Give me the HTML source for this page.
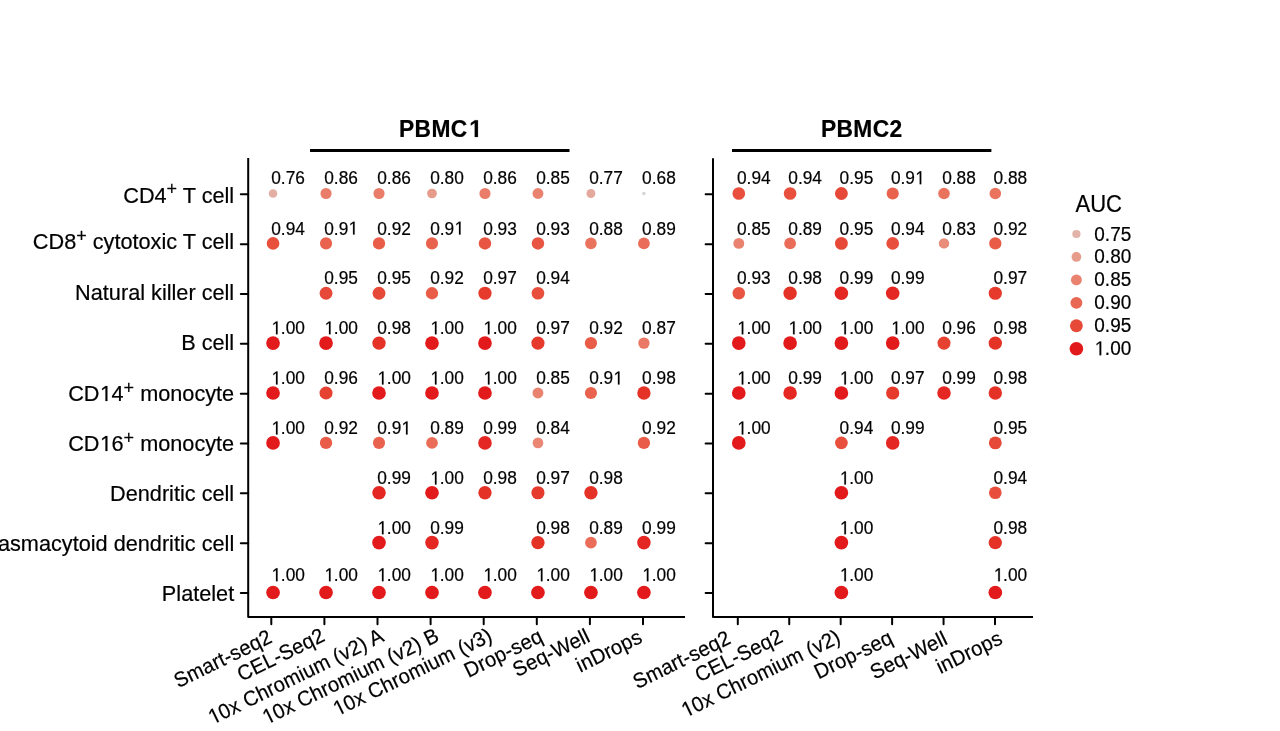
<!DOCTYPE html><html><head><meta charset="utf-8"><style>html,body{margin:0;padding:0;background:#fff;overflow:hidden}svg{display:block;will-change:transform}text{font-family:"Liberation Sans", sans-serif;stroke:#000;stroke-width:0.2px}</style></head><body>
<svg width="1280" height="731" viewBox="0 0 1280 731">
<rect width="1280" height="731" fill="#fff"/>
<text x="234.2" y="202.90" font-size="21.7" text-anchor="end" fill="#000">CD4<tspan font-size="18.0" dy="-7.5">+</tspan><tspan dy="7.5"> T cell</tspan></text>
<text x="234.2" y="249.00" font-size="21.7" text-anchor="end" fill="#000">CD8<tspan font-size="18.0" dy="-7.5">+</tspan><tspan dy="7.5"> cytotoxic T cell</tspan></text>
<text x="234.2" y="300.10" font-size="21.7" text-anchor="end" fill="#000">Natural killer cell</text>
<text x="234.2" y="350.10" font-size="21.7" text-anchor="end" fill="#000">B cell</text>
<text x="234.2" y="401.00" font-size="21.7" text-anchor="end" fill="#000">CD 4<tspan font-size="18.0" dy="-7.5">+</tspan><tspan dy="7.5"> monocyte</tspan></text><g><path d="M105.47 401.00 L105.47 387.88 L102.10 390.29 L102.10 388.49 L105.63 386.06 L107.39 386.06 L107.39 401.00Z" fill="#000" stroke="#000" stroke-width="0.2"/></g>
<text x="234.2" y="451.00" font-size="21.7" text-anchor="end" fill="#000">CD 6<tspan font-size="18.0" dy="-7.5">+</tspan><tspan dy="7.5"> monocyte</tspan></text><g><path d="M105.47 451.00 L105.47 437.88 L102.10 440.29 L102.10 438.49 L105.63 436.06 L107.39 436.06 L107.39 451.00Z" fill="#000" stroke="#000" stroke-width="0.2"/></g>
<text x="234.2" y="501.00" font-size="21.7" text-anchor="end" fill="#000">Dendritic cell</text>
<text x="234.2" y="551.00" font-size="21.7" text-anchor="end" fill="#000">Plasmacytoid dendritic cell</text>
<text x="234.2" y="601.00" font-size="21.7" text-anchor="end" fill="#000">Platelet</text>
<path d="M248.20 158.00 V616.90 H685.00" fill="none" stroke="#000" stroke-width="2.0" stroke-linecap="butt" stroke-linejoin="round"/>
<line x1="240.80" y1="194.30" x2="248.20" y2="194.30" stroke="#000" stroke-width="2.0" stroke-linecap="round"/>
<line x1="240.80" y1="244.14" x2="248.20" y2="244.14" stroke="#000" stroke-width="2.0" stroke-linecap="round"/>
<line x1="240.80" y1="293.98" x2="248.20" y2="293.98" stroke="#000" stroke-width="2.0" stroke-linecap="round"/>
<line x1="240.80" y1="343.82" x2="248.20" y2="343.82" stroke="#000" stroke-width="2.0" stroke-linecap="round"/>
<line x1="240.80" y1="393.66" x2="248.20" y2="393.66" stroke="#000" stroke-width="2.0" stroke-linecap="round"/>
<line x1="240.80" y1="443.50" x2="248.20" y2="443.50" stroke="#000" stroke-width="2.0" stroke-linecap="round"/>
<line x1="240.80" y1="493.34" x2="248.20" y2="493.34" stroke="#000" stroke-width="2.0" stroke-linecap="round"/>
<line x1="240.80" y1="543.18" x2="248.20" y2="543.18" stroke="#000" stroke-width="2.0" stroke-linecap="round"/>
<line x1="240.80" y1="593.02" x2="248.20" y2="593.02" stroke="#000" stroke-width="2.0" stroke-linecap="round"/>
<line x1="271.30" y1="616.90" x2="271.30" y2="624.30" stroke="#000" stroke-width="2.0" stroke-linecap="round"/>
<text font-size="20.2" text-anchor="end" transform="translate(267.10 628.70) rotate(-26) translate(0 14.544) scale(1 1.040)" letter-spacing="0.15" fill="#000">Smart-seq2</text>
<line x1="324.40" y1="616.90" x2="324.40" y2="624.30" stroke="#000" stroke-width="2.0" stroke-linecap="round"/>
<text font-size="20.2" text-anchor="end" transform="translate(319.90 627.30) rotate(-26) translate(0 14.544) scale(1 1.040)" letter-spacing="0.15" fill="#000">CEL-Seq2</text>
<line x1="377.50" y1="616.90" x2="377.50" y2="624.30" stroke="#000" stroke-width="2.0" stroke-linecap="round"/>
<text font-size="20.2" text-anchor="end" transform="translate(378.90 627.55) rotate(-26) translate(0 14.544) scale(1 1.040)" letter-spacing="0.15" fill="#000"> 0x Chromium (v2) A</text><g transform="translate(378.90 627.55) rotate(-26) translate(0 14.544) scale(1 1.040)"><path d="M-186.80 0.00 L-186.80 -12.36 L-189.97 -10.09 L-189.97 -11.79 L-186.65 -14.08 L-184.99 -14.08 L-184.99 0.00Z" fill="#000" stroke="#000" stroke-width="0.2"/></g>
<line x1="430.60" y1="616.90" x2="430.60" y2="624.30" stroke="#000" stroke-width="2.0" stroke-linecap="round"/>
<text font-size="20.2" text-anchor="end" transform="translate(434.10 627.15) rotate(-26) translate(0 14.544) scale(1 1.040)" letter-spacing="0.15" fill="#000"> 0x Chromium (v2) B</text><g transform="translate(434.10 627.15) rotate(-26) translate(0 14.544) scale(1 1.040)"><path d="M-187.90 0.00 L-187.90 -12.36 L-191.08 -10.09 L-191.08 -11.79 L-187.75 -14.08 L-186.09 -14.08 L-186.09 0.00Z" fill="#000" stroke="#000" stroke-width="0.2"/></g>
<line x1="483.70" y1="616.90" x2="483.70" y2="624.30" stroke="#000" stroke-width="2.0" stroke-linecap="round"/>
<text font-size="20.2" text-anchor="end" transform="translate(487.40 627.15) rotate(-26) translate(0 14.544) scale(1 1.040)" letter-spacing="0.15" fill="#000"> 0x Chromium (v3)</text><g transform="translate(487.40 627.15) rotate(-26) translate(0 14.544) scale(1 1.040)"><path d="M-168.54 0.00 L-168.54 -12.36 L-171.72 -10.09 L-171.72 -11.79 L-168.39 -14.08 L-166.73 -14.08 L-166.73 0.00Z" fill="#000" stroke="#000" stroke-width="0.2"/></g>
<line x1="536.80" y1="616.90" x2="536.80" y2="624.30" stroke="#000" stroke-width="2.0" stroke-linecap="round"/>
<text font-size="20.2" text-anchor="end" transform="translate(537.80 627.90) rotate(-26) translate(0 14.544) scale(1 1.040)" letter-spacing="0.15" fill="#000">Drop-seq</text>
<line x1="589.90" y1="616.90" x2="589.90" y2="624.30" stroke="#000" stroke-width="2.0" stroke-linecap="round"/>
<text font-size="20.2" text-anchor="end" transform="translate(585.00 627.90) rotate(-26) translate(0 14.544) scale(1 1.040)" letter-spacing="0.15" fill="#000">Seq-Well</text>
<line x1="643.00" y1="616.90" x2="643.00" y2="624.30" stroke="#000" stroke-width="2.0" stroke-linecap="round"/>
<text font-size="20.2" text-anchor="end" transform="translate(637.40 628.60) rotate(-26) translate(0 14.544) scale(1 1.040)" letter-spacing="0.15" fill="#000">inDrops</text>
<line x1="310.00" y1="150.4" x2="569.50" y2="150.4" stroke="#000" stroke-width="3"/>
<text transform="translate(439.80 137) scale(1 1.040)" font-size="22.8" font-weight="bold" text-anchor="middle" letter-spacing="0.35" fill="#000">PBMC </text><g transform="translate(439.80 137) scale(1 1.040)"><path d="M34.92 0.00 L34.92 -13.39 L31.05 -10.97 L31.05 -13.50 L35.09 -16.12 L38.13 -16.12 L38.13 0.00Z" fill="#000" stroke="#000" stroke-width="0.2"/></g>
<circle cx="273.05" cy="193.50" r="4.27" fill="#e3aea3"/>
<text transform="translate(271.25 184.20) scale(1 1.080)" font-size="17.3" fill="#000">0.76</text>
<circle cx="326.03" cy="193.50" r="5.56" fill="#ea7d69"/>
<text transform="translate(324.23 184.20) scale(1 1.080)" font-size="17.3" fill="#000">0.86</text>
<circle cx="379.01" cy="193.50" r="5.56" fill="#ea7d69"/>
<text transform="translate(377.21 184.20) scale(1 1.080)" font-size="17.3" fill="#000">0.86</text>
<circle cx="431.99" cy="193.50" r="4.85" fill="#e79b8b"/>
<text transform="translate(430.19 184.20) scale(1 1.080)" font-size="17.3" fill="#000">0.80</text>
<circle cx="484.97" cy="193.50" r="5.56" fill="#ea7d69"/>
<text transform="translate(483.17 184.20) scale(1 1.080)" font-size="17.3" fill="#000">0.86</text>
<circle cx="537.95" cy="193.50" r="5.45" fill="#e9826f"/>
<text transform="translate(536.15 184.20) scale(1 1.080)" font-size="17.3" fill="#000">0.85</text>
<circle cx="590.93" cy="193.50" r="4.43" fill="#e4a99d"/>
<text transform="translate(589.13 184.20) scale(1 1.080)" font-size="17.3" fill="#000">0.77</text>
<circle cx="643.91" cy="193.50" r="1.70" fill="#d3d3d3"/>
<text transform="translate(642.11 184.20) scale(1 1.080)" font-size="17.3" fill="#000">0.68</text>
<circle cx="273.05" cy="243.38" r="6.34" fill="#e8503d"/>
<text transform="translate(271.25 234.50) scale(1 1.080)" font-size="17.3" fill="#000">0.94</text>
<circle cx="326.03" cy="243.38" r="6.07" fill="#e9624d"/>
<text transform="translate(324.23 234.50) scale(1 1.080)" font-size="17.3" fill="#000">0.9 </text><g transform="translate(324.23 234.50) scale(1 1.080)"><path d="M28.82 0.00 L28.82 -10.47 L26.13 -8.55 L26.13 -9.99 L28.94 -11.92 L30.35 -11.92 L30.35 0.00Z" fill="#000" stroke="#000" stroke-width="0.2"/></g>
<circle cx="379.01" cy="243.38" r="6.16" fill="#e95c48"/>
<text transform="translate(377.21 234.50) scale(1 1.080)" font-size="17.3" fill="#000">0.92</text>
<circle cx="431.99" cy="243.38" r="6.07" fill="#e9624d"/>
<text transform="translate(430.19 234.50) scale(1 1.080)" font-size="17.3" fill="#000">0.9 </text><g transform="translate(430.19 234.50) scale(1 1.080)"><path d="M28.82 0.00 L28.82 -10.47 L26.13 -8.55 L26.13 -9.99 L28.94 -11.92 L30.35 -11.92 L30.35 0.00Z" fill="#000" stroke="#000" stroke-width="0.2"/></g>
<circle cx="484.97" cy="243.38" r="6.25" fill="#e85643"/>
<text transform="translate(483.17 234.50) scale(1 1.080)" font-size="17.3" fill="#000">0.93</text>
<circle cx="537.95" cy="243.38" r="6.25" fill="#e85643"/>
<text transform="translate(536.15 234.50) scale(1 1.080)" font-size="17.3" fill="#000">0.93</text>
<circle cx="590.93" cy="243.38" r="5.77" fill="#ea735e"/>
<text transform="translate(589.13 234.50) scale(1 1.080)" font-size="17.3" fill="#000">0.88</text>
<circle cx="643.91" cy="243.38" r="5.87" fill="#e96d58"/>
<text transform="translate(642.11 234.50) scale(1 1.080)" font-size="17.3" fill="#000">0.89</text>
<circle cx="326.03" cy="293.25" r="6.43" fill="#e74938"/>
<text transform="translate(324.23 284.20) scale(1 1.080)" font-size="17.3" fill="#000">0.95</text>
<circle cx="379.01" cy="293.25" r="6.43" fill="#e74938"/>
<text transform="translate(377.21 284.20) scale(1 1.080)" font-size="17.3" fill="#000">0.95</text>
<circle cx="431.99" cy="293.25" r="6.16" fill="#e95c48"/>
<text transform="translate(430.19 284.20) scale(1 1.080)" font-size="17.3" fill="#000">0.92</text>
<circle cx="484.97" cy="293.25" r="6.60" fill="#e63a2d"/>
<text transform="translate(483.17 284.20) scale(1 1.080)" font-size="17.3" fill="#000">0.97</text>
<circle cx="537.95" cy="293.25" r="6.34" fill="#e8503d"/>
<text transform="translate(536.15 284.20) scale(1 1.080)" font-size="17.3" fill="#000">0.94</text>
<circle cx="273.05" cy="343.12" r="6.85" fill="#e31a1c"/>
<text transform="translate(271.25 334.30) scale(1 1.080)" font-size="17.3" fill="#000"> .00</text><g transform="translate(271.25 334.30) scale(1 1.080)"><path d="M4.77 0.00 L4.77 -10.45 L2.09 -8.53 L2.09 -9.97 L4.90 -11.90 L6.30 -11.90 L6.30 0.00Z" fill="#000" stroke="#000" stroke-width="0.2"/></g>
<circle cx="326.03" cy="343.12" r="6.85" fill="#e31a1c"/>
<text transform="translate(324.23 334.30) scale(1 1.080)" font-size="17.3" fill="#000"> .00</text><g transform="translate(324.23 334.30) scale(1 1.080)"><path d="M4.77 0.00 L4.77 -10.45 L2.09 -8.53 L2.09 -9.97 L4.90 -11.90 L6.30 -11.90 L6.30 0.00Z" fill="#000" stroke="#000" stroke-width="0.2"/></g>
<circle cx="379.01" cy="343.12" r="6.69" fill="#e53227"/>
<text transform="translate(377.21 334.30) scale(1 1.080)" font-size="17.3" fill="#000">0.98</text>
<circle cx="431.99" cy="343.12" r="6.85" fill="#e31a1c"/>
<text transform="translate(430.19 334.30) scale(1 1.080)" font-size="17.3" fill="#000"> .00</text><g transform="translate(430.19 334.30) scale(1 1.080)"><path d="M4.77 0.00 L4.77 -10.45 L2.09 -8.53 L2.09 -9.97 L4.90 -11.90 L6.30 -11.90 L6.30 0.00Z" fill="#000" stroke="#000" stroke-width="0.2"/></g>
<circle cx="484.97" cy="343.12" r="6.85" fill="#e31a1c"/>
<text transform="translate(483.17 334.30) scale(1 1.080)" font-size="17.3" fill="#000"> .00</text><g transform="translate(483.17 334.30) scale(1 1.080)"><path d="M4.77 0.00 L4.77 -10.45 L2.09 -8.53 L2.09 -9.97 L4.90 -11.90 L6.30 -11.90 L6.30 0.00Z" fill="#000" stroke="#000" stroke-width="0.2"/></g>
<circle cx="537.95" cy="343.12" r="6.60" fill="#e63a2d"/>
<text transform="translate(536.15 334.30) scale(1 1.080)" font-size="17.3" fill="#000">0.97</text>
<circle cx="590.93" cy="343.12" r="6.16" fill="#e95c48"/>
<text transform="translate(589.13 334.30) scale(1 1.080)" font-size="17.3" fill="#000">0.92</text>
<circle cx="643.91" cy="343.12" r="5.67" fill="#ea7864"/>
<text transform="translate(642.11 334.30) scale(1 1.080)" font-size="17.3" fill="#000">0.87</text>
<circle cx="273.05" cy="393.00" r="6.85" fill="#e31a1c"/>
<text transform="translate(271.25 384.40) scale(1 1.080)" font-size="17.3" fill="#000"> .00</text><g transform="translate(271.25 384.40) scale(1 1.080)"><path d="M4.77 0.00 L4.77 -10.45 L2.09 -8.53 L2.09 -9.97 L4.90 -11.90 L6.30 -11.90 L6.30 0.00Z" fill="#000" stroke="#000" stroke-width="0.2"/></g>
<circle cx="326.03" cy="393.00" r="6.52" fill="#e64232"/>
<text transform="translate(324.23 384.40) scale(1 1.080)" font-size="17.3" fill="#000">0.96</text>
<circle cx="379.01" cy="393.00" r="6.85" fill="#e31a1c"/>
<text transform="translate(377.21 384.40) scale(1 1.080)" font-size="17.3" fill="#000"> .00</text><g transform="translate(377.21 384.40) scale(1 1.080)"><path d="M4.77 0.00 L4.77 -10.45 L2.09 -8.53 L2.09 -9.97 L4.90 -11.90 L6.30 -11.90 L6.30 0.00Z" fill="#000" stroke="#000" stroke-width="0.2"/></g>
<circle cx="431.99" cy="393.00" r="6.85" fill="#e31a1c"/>
<text transform="translate(430.19 384.40) scale(1 1.080)" font-size="17.3" fill="#000"> .00</text><g transform="translate(430.19 384.40) scale(1 1.080)"><path d="M4.77 0.00 L4.77 -10.45 L2.09 -8.53 L2.09 -9.97 L4.90 -11.90 L6.30 -11.90 L6.30 0.00Z" fill="#000" stroke="#000" stroke-width="0.2"/></g>
<circle cx="484.97" cy="393.00" r="6.85" fill="#e31a1c"/>
<text transform="translate(483.17 384.40) scale(1 1.080)" font-size="17.3" fill="#000"> .00</text><g transform="translate(483.17 384.40) scale(1 1.080)"><path d="M4.77 0.00 L4.77 -10.45 L2.09 -8.53 L2.09 -9.97 L4.90 -11.90 L6.30 -11.90 L6.30 0.00Z" fill="#000" stroke="#000" stroke-width="0.2"/></g>
<circle cx="537.95" cy="393.00" r="5.45" fill="#e9826f"/>
<text transform="translate(536.15 384.40) scale(1 1.080)" font-size="17.3" fill="#000">0.85</text>
<circle cx="590.93" cy="393.00" r="6.07" fill="#e9624d"/>
<text transform="translate(589.13 384.40) scale(1 1.080)" font-size="17.3" fill="#000">0.9 </text><g transform="translate(589.13 384.40) scale(1 1.080)"><path d="M28.82 0.00 L28.82 -10.47 L26.13 -8.55 L26.13 -9.99 L28.94 -11.92 L30.35 -11.92 L30.35 0.00Z" fill="#000" stroke="#000" stroke-width="0.2"/></g>
<circle cx="643.91" cy="393.00" r="6.69" fill="#e53227"/>
<text transform="translate(642.11 384.40) scale(1 1.080)" font-size="17.3" fill="#000">0.98</text>
<circle cx="273.05" cy="442.88" r="6.85" fill="#e31a1c"/>
<text transform="translate(271.25 434.40) scale(1 1.080)" font-size="17.3" fill="#000"> .00</text><g transform="translate(271.25 434.40) scale(1 1.080)"><path d="M4.77 0.00 L4.77 -10.45 L2.09 -8.53 L2.09 -9.97 L4.90 -11.90 L6.30 -11.90 L6.30 0.00Z" fill="#000" stroke="#000" stroke-width="0.2"/></g>
<circle cx="326.03" cy="442.88" r="6.16" fill="#e95c48"/>
<text transform="translate(324.23 434.40) scale(1 1.080)" font-size="17.3" fill="#000">0.92</text>
<circle cx="379.01" cy="442.88" r="6.07" fill="#e9624d"/>
<text transform="translate(377.21 434.40) scale(1 1.080)" font-size="17.3" fill="#000">0.9 </text><g transform="translate(377.21 434.40) scale(1 1.080)"><path d="M28.82 0.00 L28.82 -10.47 L26.13 -8.55 L26.13 -9.99 L28.94 -11.92 L30.35 -11.92 L30.35 0.00Z" fill="#000" stroke="#000" stroke-width="0.2"/></g>
<circle cx="431.99" cy="442.88" r="5.87" fill="#e96d58"/>
<text transform="translate(430.19 434.40) scale(1 1.080)" font-size="17.3" fill="#000">0.89</text>
<circle cx="484.97" cy="442.88" r="6.77" fill="#e42722"/>
<text transform="translate(483.17 434.40) scale(1 1.080)" font-size="17.3" fill="#000">0.99</text>
<circle cx="537.95" cy="442.88" r="5.34" fill="#e98774"/>
<text transform="translate(536.15 434.40) scale(1 1.080)" font-size="17.3" fill="#000">0.84</text>
<circle cx="643.91" cy="442.88" r="6.16" fill="#e95c48"/>
<text transform="translate(642.11 434.40) scale(1 1.080)" font-size="17.3" fill="#000">0.92</text>
<circle cx="379.01" cy="492.75" r="6.77" fill="#e42722"/>
<text transform="translate(377.21 484.40) scale(1 1.080)" font-size="17.3" fill="#000">0.99</text>
<circle cx="431.99" cy="492.75" r="6.85" fill="#e31a1c"/>
<text transform="translate(430.19 484.40) scale(1 1.080)" font-size="17.3" fill="#000"> .00</text><g transform="translate(430.19 484.40) scale(1 1.080)"><path d="M4.77 0.00 L4.77 -10.45 L2.09 -8.53 L2.09 -9.97 L4.90 -11.90 L6.30 -11.90 L6.30 0.00Z" fill="#000" stroke="#000" stroke-width="0.2"/></g>
<circle cx="484.97" cy="492.75" r="6.69" fill="#e53227"/>
<text transform="translate(483.17 484.40) scale(1 1.080)" font-size="17.3" fill="#000">0.98</text>
<circle cx="537.95" cy="492.75" r="6.60" fill="#e63a2d"/>
<text transform="translate(536.15 484.40) scale(1 1.080)" font-size="17.3" fill="#000">0.97</text>
<circle cx="590.93" cy="492.75" r="6.69" fill="#e53227"/>
<text transform="translate(589.13 484.40) scale(1 1.080)" font-size="17.3" fill="#000">0.98</text>
<circle cx="379.01" cy="542.62" r="6.85" fill="#e31a1c"/>
<text transform="translate(377.21 534.20) scale(1 1.080)" font-size="17.3" fill="#000"> .00</text><g transform="translate(377.21 534.20) scale(1 1.080)"><path d="M4.77 0.00 L4.77 -10.45 L2.09 -8.53 L2.09 -9.97 L4.90 -11.90 L6.30 -11.90 L6.30 0.00Z" fill="#000" stroke="#000" stroke-width="0.2"/></g>
<circle cx="431.99" cy="542.62" r="6.77" fill="#e42722"/>
<text transform="translate(430.19 534.20) scale(1 1.080)" font-size="17.3" fill="#000">0.99</text>
<circle cx="537.95" cy="542.62" r="6.69" fill="#e53227"/>
<text transform="translate(536.15 534.20) scale(1 1.080)" font-size="17.3" fill="#000">0.98</text>
<circle cx="590.93" cy="542.62" r="5.87" fill="#e96d58"/>
<text transform="translate(589.13 534.20) scale(1 1.080)" font-size="17.3" fill="#000">0.89</text>
<circle cx="643.91" cy="542.62" r="6.77" fill="#e42722"/>
<text transform="translate(642.11 534.20) scale(1 1.080)" font-size="17.3" fill="#000">0.99</text>
<circle cx="273.05" cy="592.50" r="6.85" fill="#e31a1c"/>
<text transform="translate(271.25 581.20) scale(1 1.080)" font-size="17.3" fill="#000"> .00</text><g transform="translate(271.25 581.20) scale(1 1.080)"><path d="M4.77 0.00 L4.77 -10.45 L2.09 -8.53 L2.09 -9.97 L4.90 -11.90 L6.30 -11.90 L6.30 0.00Z" fill="#000" stroke="#000" stroke-width="0.2"/></g>
<circle cx="326.03" cy="592.50" r="6.85" fill="#e31a1c"/>
<text transform="translate(324.23 581.20) scale(1 1.080)" font-size="17.3" fill="#000"> .00</text><g transform="translate(324.23 581.20) scale(1 1.080)"><path d="M4.77 0.00 L4.77 -10.45 L2.09 -8.53 L2.09 -9.97 L4.90 -11.90 L6.30 -11.90 L6.30 0.00Z" fill="#000" stroke="#000" stroke-width="0.2"/></g>
<circle cx="379.01" cy="592.50" r="6.85" fill="#e31a1c"/>
<text transform="translate(377.21 581.20) scale(1 1.080)" font-size="17.3" fill="#000"> .00</text><g transform="translate(377.21 581.20) scale(1 1.080)"><path d="M4.77 0.00 L4.77 -10.45 L2.09 -8.53 L2.09 -9.97 L4.90 -11.90 L6.30 -11.90 L6.30 0.00Z" fill="#000" stroke="#000" stroke-width="0.2"/></g>
<circle cx="431.99" cy="592.50" r="6.85" fill="#e31a1c"/>
<text transform="translate(430.19 581.20) scale(1 1.080)" font-size="17.3" fill="#000"> .00</text><g transform="translate(430.19 581.20) scale(1 1.080)"><path d="M4.77 0.00 L4.77 -10.45 L2.09 -8.53 L2.09 -9.97 L4.90 -11.90 L6.30 -11.90 L6.30 0.00Z" fill="#000" stroke="#000" stroke-width="0.2"/></g>
<circle cx="484.97" cy="592.50" r="6.85" fill="#e31a1c"/>
<text transform="translate(483.17 581.20) scale(1 1.080)" font-size="17.3" fill="#000"> .00</text><g transform="translate(483.17 581.20) scale(1 1.080)"><path d="M4.77 0.00 L4.77 -10.45 L2.09 -8.53 L2.09 -9.97 L4.90 -11.90 L6.30 -11.90 L6.30 0.00Z" fill="#000" stroke="#000" stroke-width="0.2"/></g>
<circle cx="537.95" cy="592.50" r="6.85" fill="#e31a1c"/>
<text transform="translate(536.15 581.20) scale(1 1.080)" font-size="17.3" fill="#000"> .00</text><g transform="translate(536.15 581.20) scale(1 1.080)"><path d="M4.77 0.00 L4.77 -10.45 L2.09 -8.53 L2.09 -9.97 L4.90 -11.90 L6.30 -11.90 L6.30 0.00Z" fill="#000" stroke="#000" stroke-width="0.2"/></g>
<circle cx="590.93" cy="592.50" r="6.85" fill="#e31a1c"/>
<text transform="translate(589.13 581.20) scale(1 1.080)" font-size="17.3" fill="#000"> .00</text><g transform="translate(589.13 581.20) scale(1 1.080)"><path d="M4.77 0.00 L4.77 -10.45 L2.09 -8.53 L2.09 -9.97 L4.90 -11.90 L6.30 -11.90 L6.30 0.00Z" fill="#000" stroke="#000" stroke-width="0.2"/></g>
<circle cx="643.91" cy="592.50" r="6.85" fill="#e31a1c"/>
<text transform="translate(642.11 581.20) scale(1 1.080)" font-size="17.3" fill="#000"> .00</text><g transform="translate(642.11 581.20) scale(1 1.080)"><path d="M4.77 0.00 L4.77 -10.45 L2.09 -8.53 L2.09 -9.97 L4.90 -11.90 L6.30 -11.90 L6.30 0.00Z" fill="#000" stroke="#000" stroke-width="0.2"/></g>
<path d="M713.00 158.30 V616.90 H1033.00" fill="none" stroke="#000" stroke-width="2.0" stroke-linecap="butt" stroke-linejoin="round"/>
<line x1="705.60" y1="194.30" x2="713.00" y2="194.30" stroke="#000" stroke-width="2.0" stroke-linecap="round"/>
<line x1="705.60" y1="244.14" x2="713.00" y2="244.14" stroke="#000" stroke-width="2.0" stroke-linecap="round"/>
<line x1="705.60" y1="293.98" x2="713.00" y2="293.98" stroke="#000" stroke-width="2.0" stroke-linecap="round"/>
<line x1="705.60" y1="343.82" x2="713.00" y2="343.82" stroke="#000" stroke-width="2.0" stroke-linecap="round"/>
<line x1="705.60" y1="393.66" x2="713.00" y2="393.66" stroke="#000" stroke-width="2.0" stroke-linecap="round"/>
<line x1="705.60" y1="443.50" x2="713.00" y2="443.50" stroke="#000" stroke-width="2.0" stroke-linecap="round"/>
<line x1="705.60" y1="493.34" x2="713.00" y2="493.34" stroke="#000" stroke-width="2.0" stroke-linecap="round"/>
<line x1="705.60" y1="543.18" x2="713.00" y2="543.18" stroke="#000" stroke-width="2.0" stroke-linecap="round"/>
<line x1="705.60" y1="593.02" x2="713.00" y2="593.02" stroke="#000" stroke-width="2.0" stroke-linecap="round"/>
<line x1="737.80" y1="616.90" x2="737.80" y2="624.30" stroke="#000" stroke-width="2.0" stroke-linecap="round"/>
<text font-size="20.2" text-anchor="end" transform="translate(725.90 629.80) rotate(-26) translate(0 14.544) scale(1 1.040)" letter-spacing="0.15" fill="#000">Smart-seq2</text>
<line x1="789.24" y1="616.90" x2="789.24" y2="624.30" stroke="#000" stroke-width="2.0" stroke-linecap="round"/>
<text font-size="20.2" text-anchor="end" transform="translate(777.74 628.10) rotate(-26) translate(0 14.544) scale(1 1.040)" letter-spacing="0.15" fill="#000">CEL-Seq2</text>
<line x1="840.68" y1="616.90" x2="840.68" y2="624.30" stroke="#000" stroke-width="2.0" stroke-linecap="round"/>
<text font-size="20.2" text-anchor="end" transform="translate(835.68 628.55) rotate(-26) translate(0 14.544) scale(1 1.040)" letter-spacing="0.15" fill="#000"> 0x Chromium (v2)</text><g transform="translate(835.68 628.55) rotate(-26) translate(0 14.544) scale(1 1.040)"><path d="M-168.54 0.00 L-168.54 -12.36 L-171.72 -10.09 L-171.72 -11.79 L-168.39 -14.08 L-166.73 -14.08 L-166.73 0.00Z" fill="#000" stroke="#000" stroke-width="0.2"/></g>
<line x1="892.12" y1="616.90" x2="892.12" y2="624.30" stroke="#000" stroke-width="2.0" stroke-linecap="round"/>
<text font-size="20.2" text-anchor="end" transform="translate(887.92 629.40) rotate(-26) translate(0 14.544) scale(1 1.040)" letter-spacing="0.15" fill="#000">Drop-seq</text>
<line x1="943.56" y1="616.90" x2="943.56" y2="624.30" stroke="#000" stroke-width="2.0" stroke-linecap="round"/>
<text font-size="20.2" text-anchor="end" transform="translate(942.56 630.30) rotate(-26) translate(0 14.544) scale(1 1.040)" letter-spacing="0.15" fill="#000">Seq-Well</text>
<line x1="995.00" y1="616.90" x2="995.00" y2="624.30" stroke="#000" stroke-width="2.0" stroke-linecap="round"/>
<text font-size="20.2" text-anchor="end" transform="translate(997.50 630.00) rotate(-26) translate(0 14.544) scale(1 1.040)" letter-spacing="0.15" fill="#000">inDrops</text>
<line x1="732.00" y1="150.4" x2="991.40" y2="150.4" stroke="#000" stroke-width="3"/>
<text transform="translate(861.70 137) scale(1 1.040)" font-size="22.8" font-weight="bold" text-anchor="middle" letter-spacing="0.35" fill="#000">PBMC2</text>
<circle cx="738.80" cy="193.50" r="6.34" fill="#e8503d"/>
<text transform="translate(737.00 184.20) scale(1 1.080)" font-size="17.3" fill="#000">0.94</text>
<circle cx="790.10" cy="193.50" r="6.34" fill="#e8503d"/>
<text transform="translate(788.30 184.20) scale(1 1.080)" font-size="17.3" fill="#000">0.94</text>
<circle cx="841.40" cy="193.50" r="6.43" fill="#e74938"/>
<text transform="translate(839.60 184.20) scale(1 1.080)" font-size="17.3" fill="#000">0.95</text>
<circle cx="892.70" cy="193.50" r="6.07" fill="#e9624d"/>
<text transform="translate(890.90 184.20) scale(1 1.080)" font-size="17.3" fill="#000">0.9 </text><g transform="translate(890.90 184.20) scale(1 1.080)"><path d="M28.82 0.00 L28.82 -10.47 L26.13 -8.55 L26.13 -9.99 L28.94 -11.92 L30.35 -11.92 L30.35 0.00Z" fill="#000" stroke="#000" stroke-width="0.2"/></g>
<circle cx="944.00" cy="193.50" r="5.77" fill="#ea735e"/>
<text transform="translate(942.20 184.20) scale(1 1.080)" font-size="17.3" fill="#000">0.88</text>
<circle cx="995.30" cy="193.50" r="5.77" fill="#ea735e"/>
<text transform="translate(993.50 184.20) scale(1 1.080)" font-size="17.3" fill="#000">0.88</text>
<circle cx="738.80" cy="243.38" r="5.45" fill="#e9826f"/>
<text transform="translate(737.00 234.50) scale(1 1.080)" font-size="17.3" fill="#000">0.85</text>
<circle cx="790.10" cy="243.38" r="5.87" fill="#e96d58"/>
<text transform="translate(788.30 234.50) scale(1 1.080)" font-size="17.3" fill="#000">0.89</text>
<circle cx="841.40" cy="243.38" r="6.43" fill="#e74938"/>
<text transform="translate(839.60 234.50) scale(1 1.080)" font-size="17.3" fill="#000">0.95</text>
<circle cx="892.70" cy="243.38" r="6.34" fill="#e8503d"/>
<text transform="translate(890.90 234.50) scale(1 1.080)" font-size="17.3" fill="#000">0.94</text>
<circle cx="944.00" cy="243.38" r="5.23" fill="#e98c7a"/>
<text transform="translate(942.20 234.50) scale(1 1.080)" font-size="17.3" fill="#000">0.83</text>
<circle cx="995.30" cy="243.38" r="6.16" fill="#e95c48"/>
<text transform="translate(993.50 234.50) scale(1 1.080)" font-size="17.3" fill="#000">0.92</text>
<circle cx="738.80" cy="293.25" r="6.25" fill="#e85643"/>
<text transform="translate(737.00 284.20) scale(1 1.080)" font-size="17.3" fill="#000">0.93</text>
<circle cx="790.10" cy="293.25" r="6.69" fill="#e53227"/>
<text transform="translate(788.30 284.20) scale(1 1.080)" font-size="17.3" fill="#000">0.98</text>
<circle cx="841.40" cy="293.25" r="6.77" fill="#e42722"/>
<text transform="translate(839.60 284.20) scale(1 1.080)" font-size="17.3" fill="#000">0.99</text>
<circle cx="892.70" cy="293.25" r="6.77" fill="#e42722"/>
<text transform="translate(890.90 284.20) scale(1 1.080)" font-size="17.3" fill="#000">0.99</text>
<circle cx="995.30" cy="293.25" r="6.60" fill="#e63a2d"/>
<text transform="translate(993.50 284.20) scale(1 1.080)" font-size="17.3" fill="#000">0.97</text>
<circle cx="738.80" cy="343.12" r="6.85" fill="#e31a1c"/>
<text transform="translate(737.00 334.30) scale(1 1.080)" font-size="17.3" fill="#000"> .00</text><g transform="translate(737.00 334.30) scale(1 1.080)"><path d="M4.77 0.00 L4.77 -10.45 L2.09 -8.53 L2.09 -9.97 L4.90 -11.90 L6.30 -11.90 L6.30 0.00Z" fill="#000" stroke="#000" stroke-width="0.2"/></g>
<circle cx="790.10" cy="343.12" r="6.85" fill="#e31a1c"/>
<text transform="translate(788.30 334.30) scale(1 1.080)" font-size="17.3" fill="#000"> .00</text><g transform="translate(788.30 334.30) scale(1 1.080)"><path d="M4.77 0.00 L4.77 -10.45 L2.09 -8.53 L2.09 -9.97 L4.90 -11.90 L6.30 -11.90 L6.30 0.00Z" fill="#000" stroke="#000" stroke-width="0.2"/></g>
<circle cx="841.40" cy="343.12" r="6.85" fill="#e31a1c"/>
<text transform="translate(839.60 334.30) scale(1 1.080)" font-size="17.3" fill="#000"> .00</text><g transform="translate(839.60 334.30) scale(1 1.080)"><path d="M4.77 0.00 L4.77 -10.45 L2.09 -8.53 L2.09 -9.97 L4.90 -11.90 L6.30 -11.90 L6.30 0.00Z" fill="#000" stroke="#000" stroke-width="0.2"/></g>
<circle cx="892.70" cy="343.12" r="6.85" fill="#e31a1c"/>
<text transform="translate(890.90 334.30) scale(1 1.080)" font-size="17.3" fill="#000"> .00</text><g transform="translate(890.90 334.30) scale(1 1.080)"><path d="M4.77 0.00 L4.77 -10.45 L2.09 -8.53 L2.09 -9.97 L4.90 -11.90 L6.30 -11.90 L6.30 0.00Z" fill="#000" stroke="#000" stroke-width="0.2"/></g>
<circle cx="944.00" cy="343.12" r="6.52" fill="#e64232"/>
<text transform="translate(942.20 334.30) scale(1 1.080)" font-size="17.3" fill="#000">0.96</text>
<circle cx="995.30" cy="343.12" r="6.69" fill="#e53227"/>
<text transform="translate(993.50 334.30) scale(1 1.080)" font-size="17.3" fill="#000">0.98</text>
<circle cx="738.80" cy="393.00" r="6.85" fill="#e31a1c"/>
<text transform="translate(737.00 384.40) scale(1 1.080)" font-size="17.3" fill="#000"> .00</text><g transform="translate(737.00 384.40) scale(1 1.080)"><path d="M4.77 0.00 L4.77 -10.45 L2.09 -8.53 L2.09 -9.97 L4.90 -11.90 L6.30 -11.90 L6.30 0.00Z" fill="#000" stroke="#000" stroke-width="0.2"/></g>
<circle cx="790.10" cy="393.00" r="6.77" fill="#e42722"/>
<text transform="translate(788.30 384.40) scale(1 1.080)" font-size="17.3" fill="#000">0.99</text>
<circle cx="841.40" cy="393.00" r="6.85" fill="#e31a1c"/>
<text transform="translate(839.60 384.40) scale(1 1.080)" font-size="17.3" fill="#000"> .00</text><g transform="translate(839.60 384.40) scale(1 1.080)"><path d="M4.77 0.00 L4.77 -10.45 L2.09 -8.53 L2.09 -9.97 L4.90 -11.90 L6.30 -11.90 L6.30 0.00Z" fill="#000" stroke="#000" stroke-width="0.2"/></g>
<circle cx="892.70" cy="393.00" r="6.60" fill="#e63a2d"/>
<text transform="translate(890.90 384.40) scale(1 1.080)" font-size="17.3" fill="#000">0.97</text>
<circle cx="944.00" cy="393.00" r="6.77" fill="#e42722"/>
<text transform="translate(942.20 384.40) scale(1 1.080)" font-size="17.3" fill="#000">0.99</text>
<circle cx="995.30" cy="393.00" r="6.69" fill="#e53227"/>
<text transform="translate(993.50 384.40) scale(1 1.080)" font-size="17.3" fill="#000">0.98</text>
<circle cx="738.80" cy="442.88" r="6.85" fill="#e31a1c"/>
<text transform="translate(737.00 434.40) scale(1 1.080)" font-size="17.3" fill="#000"> .00</text><g transform="translate(737.00 434.40) scale(1 1.080)"><path d="M4.77 0.00 L4.77 -10.45 L2.09 -8.53 L2.09 -9.97 L4.90 -11.90 L6.30 -11.90 L6.30 0.00Z" fill="#000" stroke="#000" stroke-width="0.2"/></g>
<circle cx="841.40" cy="442.88" r="6.34" fill="#e8503d"/>
<text transform="translate(839.60 434.40) scale(1 1.080)" font-size="17.3" fill="#000">0.94</text>
<circle cx="892.70" cy="442.88" r="6.77" fill="#e42722"/>
<text transform="translate(890.90 434.40) scale(1 1.080)" font-size="17.3" fill="#000">0.99</text>
<circle cx="995.30" cy="442.88" r="6.43" fill="#e74938"/>
<text transform="translate(993.50 434.40) scale(1 1.080)" font-size="17.3" fill="#000">0.95</text>
<circle cx="841.40" cy="492.75" r="6.85" fill="#e31a1c"/>
<text transform="translate(839.60 484.40) scale(1 1.080)" font-size="17.3" fill="#000"> .00</text><g transform="translate(839.60 484.40) scale(1 1.080)"><path d="M4.77 0.00 L4.77 -10.45 L2.09 -8.53 L2.09 -9.97 L4.90 -11.90 L6.30 -11.90 L6.30 0.00Z" fill="#000" stroke="#000" stroke-width="0.2"/></g>
<circle cx="995.30" cy="492.75" r="6.34" fill="#e8503d"/>
<text transform="translate(993.50 484.40) scale(1 1.080)" font-size="17.3" fill="#000">0.94</text>
<circle cx="841.40" cy="542.62" r="6.85" fill="#e31a1c"/>
<text transform="translate(839.60 534.20) scale(1 1.080)" font-size="17.3" fill="#000"> .00</text><g transform="translate(839.60 534.20) scale(1 1.080)"><path d="M4.77 0.00 L4.77 -10.45 L2.09 -8.53 L2.09 -9.97 L4.90 -11.90 L6.30 -11.90 L6.30 0.00Z" fill="#000" stroke="#000" stroke-width="0.2"/></g>
<circle cx="995.30" cy="542.62" r="6.69" fill="#e53227"/>
<text transform="translate(993.50 534.20) scale(1 1.080)" font-size="17.3" fill="#000">0.98</text>
<circle cx="841.40" cy="592.50" r="6.85" fill="#e31a1c"/>
<text transform="translate(839.60 581.20) scale(1 1.080)" font-size="17.3" fill="#000"> .00</text><g transform="translate(839.60 581.20) scale(1 1.080)"><path d="M4.77 0.00 L4.77 -10.45 L2.09 -8.53 L2.09 -9.97 L4.90 -11.90 L6.30 -11.90 L6.30 0.00Z" fill="#000" stroke="#000" stroke-width="0.2"/></g>
<circle cx="995.30" cy="592.50" r="6.85" fill="#e31a1c"/>
<text transform="translate(993.50 581.20) scale(1 1.080)" font-size="17.3" fill="#000"> .00</text><g transform="translate(993.50 581.20) scale(1 1.080)"><path d="M4.77 0.00 L4.77 -10.45 L2.09 -8.53 L2.09 -9.97 L4.90 -11.90 L6.30 -11.90 L6.30 0.00Z" fill="#000" stroke="#000" stroke-width="0.2"/></g>
<text transform="translate(1075.5 211.5) scale(1 1.05)" font-size="22" fill="#000">AUC</text>
<circle cx="1076.4" cy="234.00" r="4.11" fill="#e1b3a9"/>
<text transform="translate(1094.3 240.50) scale(1 1.06)" font-size="19" fill="#000">0.75</text>
<circle cx="1076.4" cy="256.95" r="4.85" fill="#e79b8b"/>
<text transform="translate(1094.3 263.45) scale(1 1.06)" font-size="19" fill="#000">0.80</text>
<circle cx="1076.4" cy="279.90" r="5.45" fill="#e9826f"/>
<text transform="translate(1094.3 286.40) scale(1 1.06)" font-size="19" fill="#000">0.85</text>
<circle cx="1076.4" cy="302.85" r="5.97" fill="#e96853"/>
<text transform="translate(1094.3 309.35) scale(1 1.06)" font-size="19" fill="#000">0.90</text>
<circle cx="1076.4" cy="325.80" r="6.43" fill="#e74938"/>
<text transform="translate(1094.3 332.30) scale(1 1.06)" font-size="19" fill="#000">0.95</text>
<circle cx="1076.4" cy="348.75" r="6.85" fill="#e31a1c"/>
<text transform="translate(1094.3 355.25) scale(1 1.06)" font-size="19" fill="#000"> .00</text><g transform="translate(1094.3 355.25) scale(1 1.06)"><path d="M5.24 0.00 L5.24 -11.48 L2.29 -9.37 L2.29 -10.95 L5.38 -13.07 L6.92 -13.07 L6.92 0.00Z" fill="#000" stroke="#000" stroke-width="0.2"/></g>
</svg></body></html>
